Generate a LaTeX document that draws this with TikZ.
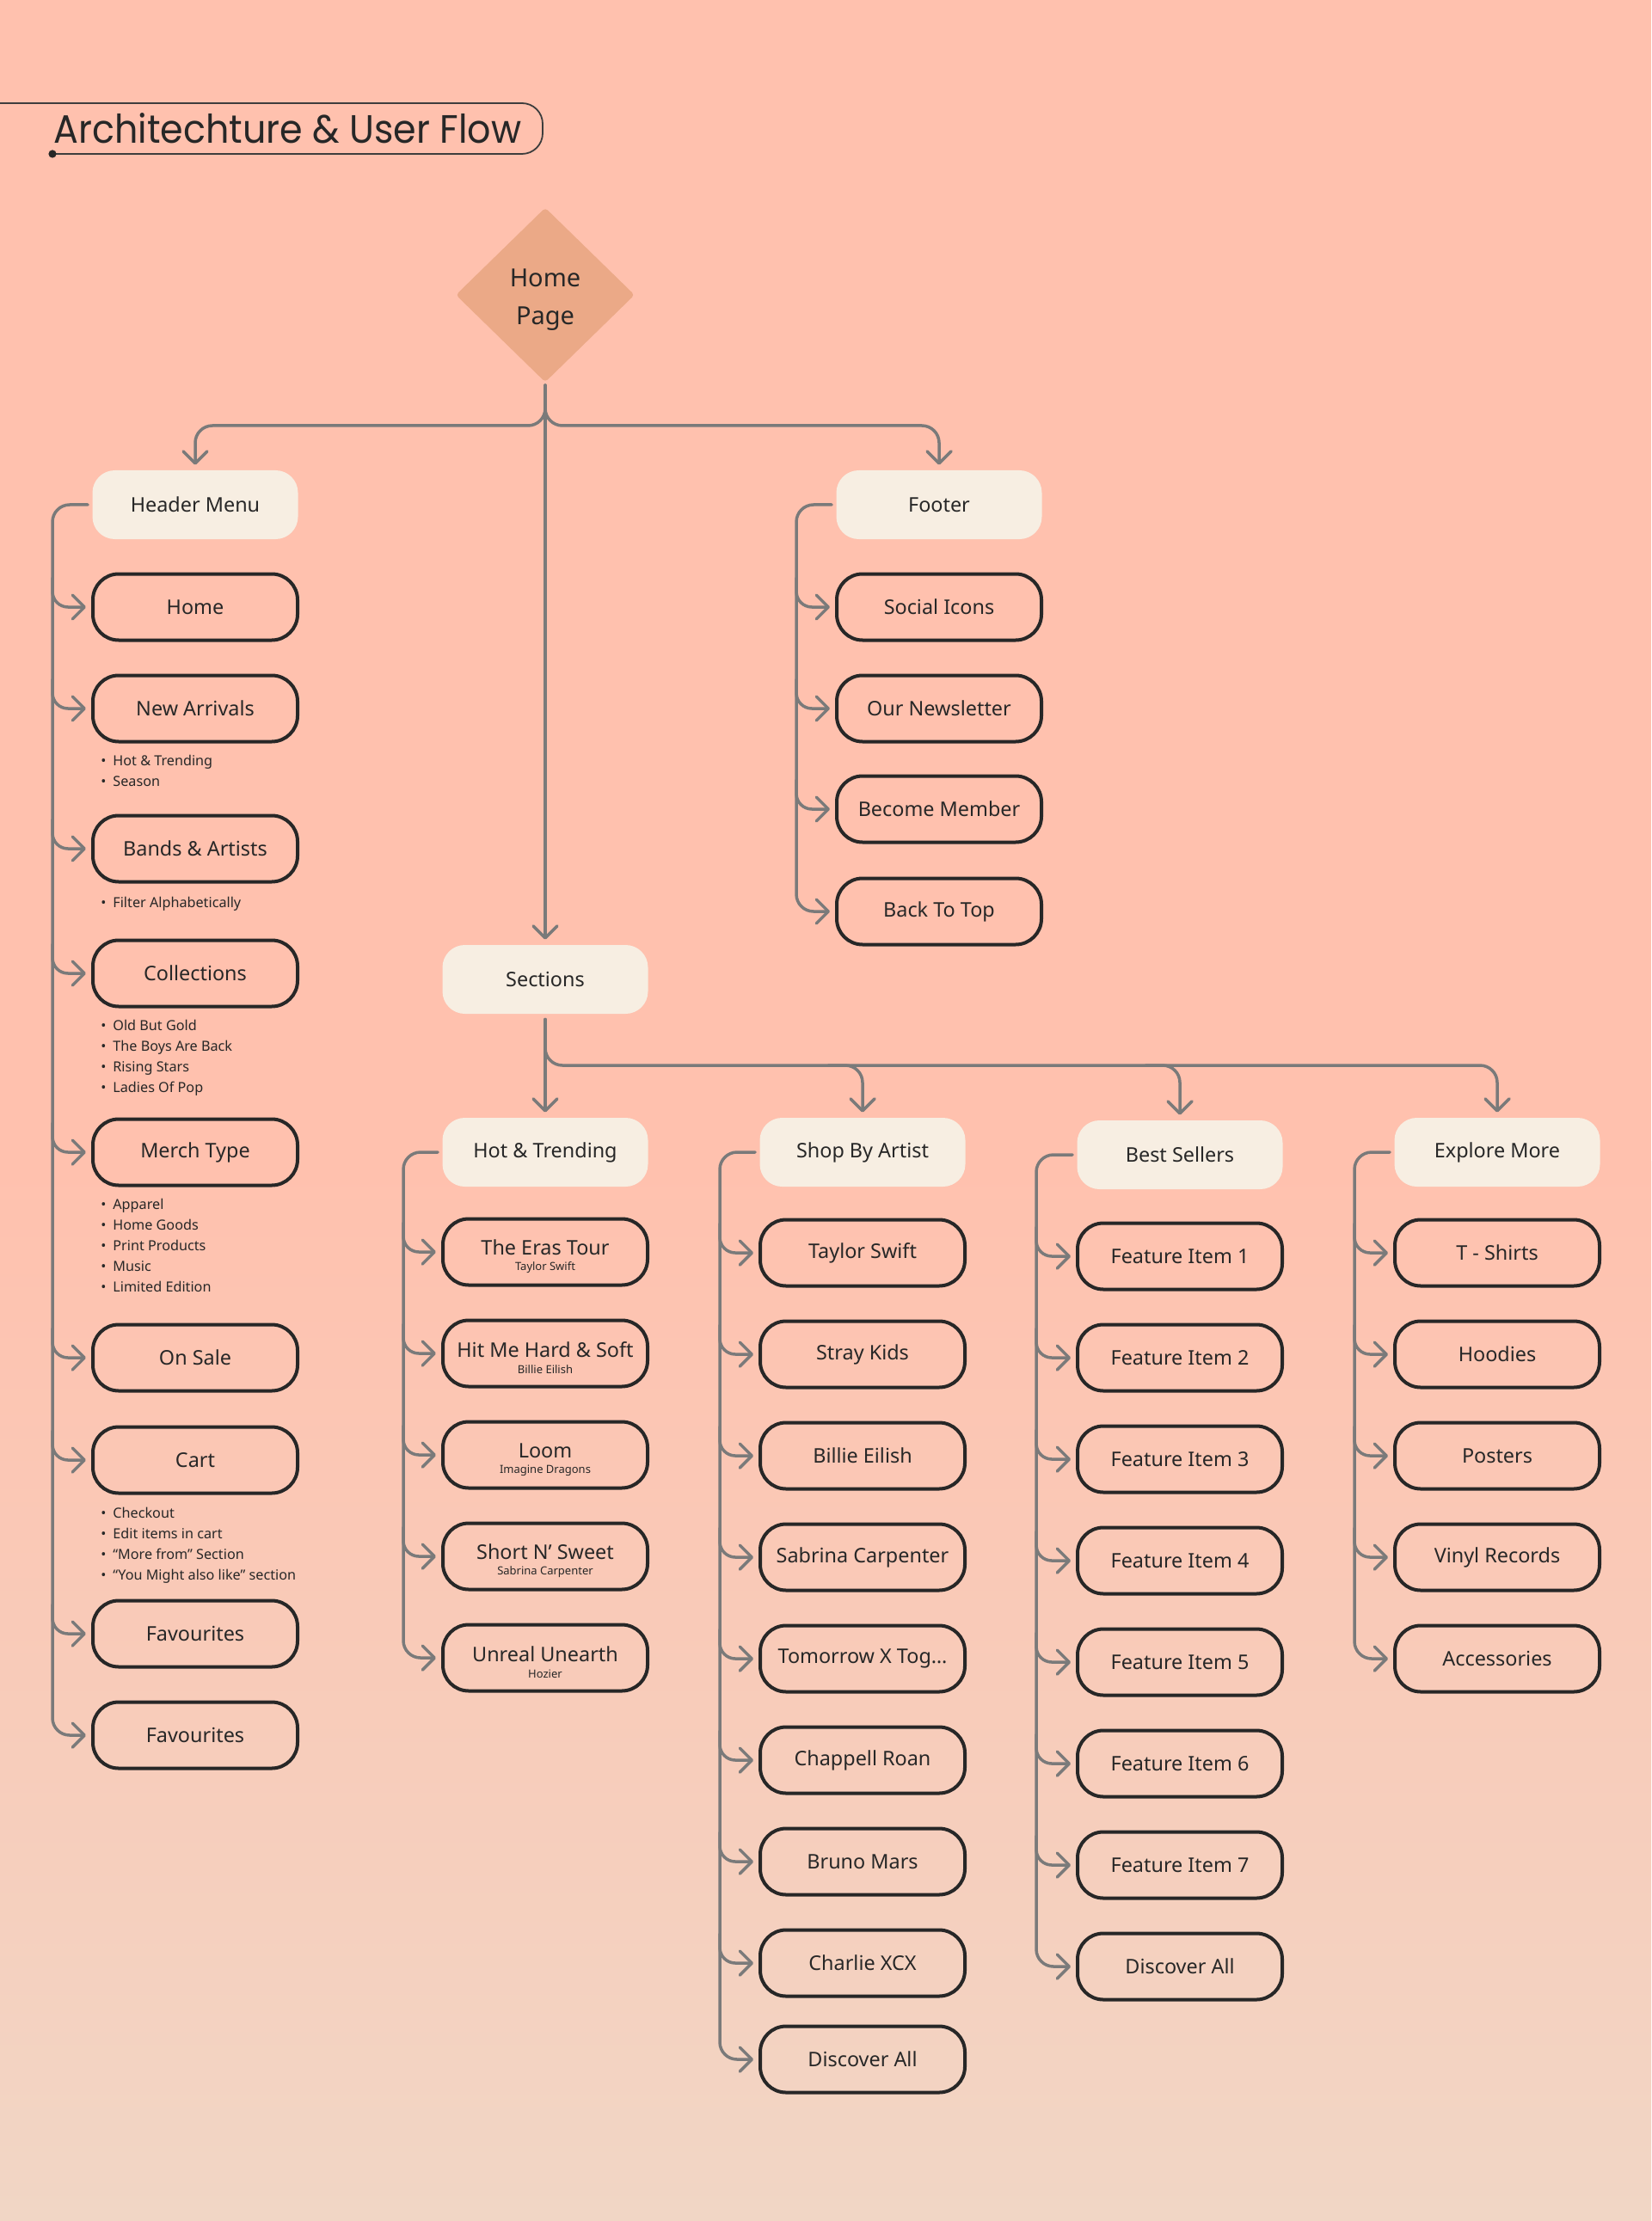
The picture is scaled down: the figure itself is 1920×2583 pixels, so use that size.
\documentclass[tikz,border=0pt]{standalone}
\usepackage{fontspec}
\setmainfont{Noto Sans}
\newfontfamily\titlefont{Poppins}
\usetikzlibrary{arrows.meta,shapes.geometric,calc}
\definecolor{bgtop}{HTML}{FFC1AE}
\definecolor{bgbot}{HTML}{F1D6C5}
\definecolor{cream}{HTML}{F7EEE2}
\definecolor{diam}{HTML}{EBA987}
\definecolor{ink}{HTML}{272727}
\definecolor{conncol}{HTML}{7A7A7A}
\tikzset{
  conn/.style={draw=conncol, line width=1.75pt, line cap=round,
    -{Straight Barb[length=7pt,width=14pt,round]}, shorten >=3pt},
  pill/.style={fill=cream, rounded corners=13pt, minimum width=119.5pt,
    minimum height=40pt, inner sep=0pt, text=ink, font=\fontsize{11.7}{14}\selectfont},
  box/.style={draw=ink, line width=2pt, rounded corners=15pt, minimum width=119pt,
    minimum height=38.5pt, inner sep=0pt, text=ink, align=center,
    font=\fontsize{11.7}{14}\selectfont},
  bullets/.style={anchor=base west, align=left, inner sep=0pt, text=ink,
    font=\fontsize{8.1}{12}\selectfont},
}
\newcommand\bl[1]{\makebox[7pt][l]{•}#1}
\newcommand\subt[1]{{\fontsize{6.5}{7}\selectfont #1}}
\newcommand\twoline[2]{\rule{0pt}{14pt}#1\\[-4.9pt]\subt{#2}}
\newcommand\branch[2]{\draw[conn,rounded corners=9pt] ($(#1 |- #2.west)+(0,-34)$) -- (#1 |- #2.west) -- (#2.west);}
\newcommand\trunk[3]{\draw[conn,rounded corners=10pt,shorten <=2.5pt] (#2.west) -- (#1 |- #2.west) -- (#1 |- #3.west) -- (#3.west);}
\begin{document}
\begin{tikzpicture}[x=0.5pt,y=-0.5pt]
\useasboundingbox (0,0) rectangle (1920,2583);
\fill[bgtop] (0,0) rectangle (1920,1351);
\shade[top color=bgtop, bottom color=bgbot] (0,1350) rectangle (1920,2583);

% title
\draw[draw=ink!90, line width=0.9pt, rounded corners=12pt] (0,120) -- (631,120) -- (631,179) -- (61,179);
\fill[ink] (61,179) circle (2.3pt);
\node[anchor=base west, inner sep=0pt, text=ink] (title) at (62,167)
  {\resizebox{272pt}{17.5pt}{\titlefont Architechture \& User Flow}};

% home page
\node[diamond, fill=diam, minimum width=104pt, minimum height=101.5pt, inner sep=0pt,
  aspect=1, rounded corners=2pt, align=center, text=ink,
  font=\fontsize{14.5}{22}\selectfont] (homepage) at (634,343) {\rule{0pt}{16pt}Home\\Page};

% trunk coordinates
\coordinate (tA) at (61,0);
\coordinate (tB) at (469,0);
\coordinate (tC) at (837,0);
\coordinate (tD) at (1205,0);
\coordinate (tE) at (1575,0);
\coordinate (tF) at (926,0);
\coordinate (br1) at (634,495);
\coordinate (br2) at (634,1239);

% header column
\node[pill] (hm) at (227,587) {Header Menu};
\node[box] (a1) at (227,706) {Home};
\node[box] (a2) at (227,824) {New Arrivals};
\node[box] (a3) at (227,987) {Bands \& Artists};
\node[box] (a4) at (227,1132) {Collections};
\node[box] (a5) at (227,1340) {Merch Type};
\node[box] (a6) at (227,1579) {On Sale};
\node[box] (a7) at (227,1698) {Cart};
\node[box] (a8) at (227,1900) {Favourites};
\node[box] (a9) at (227,2018) {Favourites};

\node[bullets] (l2) at (117,914) {\bl{Hot \& Trending}\\\bl{Season}};
\node[bullets] (l3) at (117,1055) {\bl{Filter Alphabetically}};
\node[bullets] (l4) at (117,1270) {\bl{Old But Gold}\\\bl{The Boys Are Back}\\\bl{Rising Stars}\\\bl{Ladies Of Pop}};
\node[bullets] (l5) at (117,1502) {\bl{Apparel}\\\bl{Home Goods}\\\bl{Print Products}\\\bl{Music}\\\bl{Limited Edition}};
\node[bullets] (l7) at (117,1837) {\bl{Checkout}\\\bl{Edit items in cart}\\\bl{“More from” Section}\\\bl{“You Might also like” section}};

% footer column
\node[pill] (ft) at (1092,587) {Footer};
\node[box] (f1) at (1092,706) {Social Icons};
\node[box] (f2) at (1092,824) {Our Newsletter};
\node[box] (f3) at (1092,941) {Become Member};
\node[box] (f4) at (1092,1060) {Back To Top};

% sections
\node[pill] (sec) at (634,1139) {Sections};

\node[pill] (hot) at (634,1340) {Hot \& Trending};
\node[box] (b1) at (634,1456) {\twoline{The Eras Tour}{Taylor Swift}};
\node[box] (b2) at (634,1574) {\twoline{Hit Me Hard \& Soft}{Billie Eilish}};
\node[box] (b3) at (634,1692) {\twoline{Loom}{Imagine Dragons}};
\node[box] (b4) at (634,1810) {\twoline{Short N’ Sweet}{Sabrina Carpenter}};
\node[box] (b5) at (634,1928) {\twoline{Unreal Unearth}{Hozier}};

\node[pill] (shop) at (1003,1340) {Shop By Artist};
\node[box] (c1) at (1003,1457) {Taylor Swift};
\node[box] (c2) at (1003,1575) {Stray Kids};
\node[box] (c3) at (1003,1693) {Billie Eilish};
\node[box] (c4) at (1003,1811) {Sabrina Carpenter};
\node[box] (c5) at (1003,1929) {Tomorrow X Tog…};
\node[box] (c6) at (1003,2047) {Chappell Roan};
\node[box] (c7) at (1003,2165) {Bruno Mars};
\node[box] (c8) at (1003,2283) {Charlie XCX};
\node[box] (c9) at (1003,2395) {Discover All};

\node[pill] (best) at (1372,1343) {Best Sellers};
\node[box] (d1) at (1372,1461) {Feature Item 1};
\node[box] (d2) at (1372,1579) {Feature Item 2};
\node[box] (d3) at (1372,1697) {Feature Item 3};
\node[box] (d4) at (1372,1815) {Feature Item 4};
\node[box] (d5) at (1372,1933) {Feature Item 5};
\node[box] (d6) at (1372,2051) {Feature Item 6};
\node[box] (d7) at (1372,2169) {Feature Item 7};
\node[box] (d8) at (1372,2287) {Discover All};

\node[pill] (expl) at (1741,1340) {Explore More};
\node[box] (e1) at (1741,1457) {T - Shirts};
\node[box] (e2) at (1741,1575) {Hoodies};
\node[box] (e3) at (1741,1693) {Posters};
\node[box] (e4) at (1741,1811) {Vinyl Records};
\node[box] (e5) at (1741,1929) {Accessories};

% top-level connectors
\draw[conn, shorten <=1.5pt] (homepage.south) -- (sec.north);
\draw[conn, rounded corners=10pt] ($(br1)+(0,-34)$) -- (br1) -- (br1 -| hm.north) -- (hm.north);
\draw[conn, rounded corners=10pt] ($(br1)+(0,-34)$) -- (br1) -- (br1 -| ft.north) -- (ft.north);

\draw[conn, shorten <=3pt] (sec.south) -- (hot.north);
\draw[conn, rounded corners=10pt] ($(br2)+(0,-34)$) -- (br2) -- (br2 -| expl.north) -- (expl.north);
\draw[conn, rounded corners=10pt] ($(br2 -| shop.north)+(-40,0)$) -- (br2 -| shop.north) -- (shop.north);
\draw[conn, rounded corners=10pt] ($(br2 -| best.north)+(-40,0)$) -- (br2 -| best.north) -- (best.north);

% column trunks
\trunk{tA}{hm}{a9}
\foreach \n in {a1,a2,a3,a4,a5,a6,a7,a8} {\branch{tA}{\n}}
\trunk{tF}{ft}{f4}
\foreach \n in {f1,f2,f3} {\branch{tF}{\n}}
\trunk{tB}{hot}{b5}
\foreach \n in {b1,b2,b3,b4} {\branch{tB}{\n}}
\trunk{tC}{shop}{c9}
\foreach \n in {c1,c2,c3,c4,c5,c6,c7,c8} {\branch{tC}{\n}}
\trunk{tD}{best}{d8}
\foreach \n in {d1,d2,d3,d4,d5,d6,d7} {\branch{tD}{\n}}
\trunk{tE}{expl}{e5}
\foreach \n in {e1,e2,e3,e4} {\branch{tE}{\n}}
\end{tikzpicture}
\end{document}
